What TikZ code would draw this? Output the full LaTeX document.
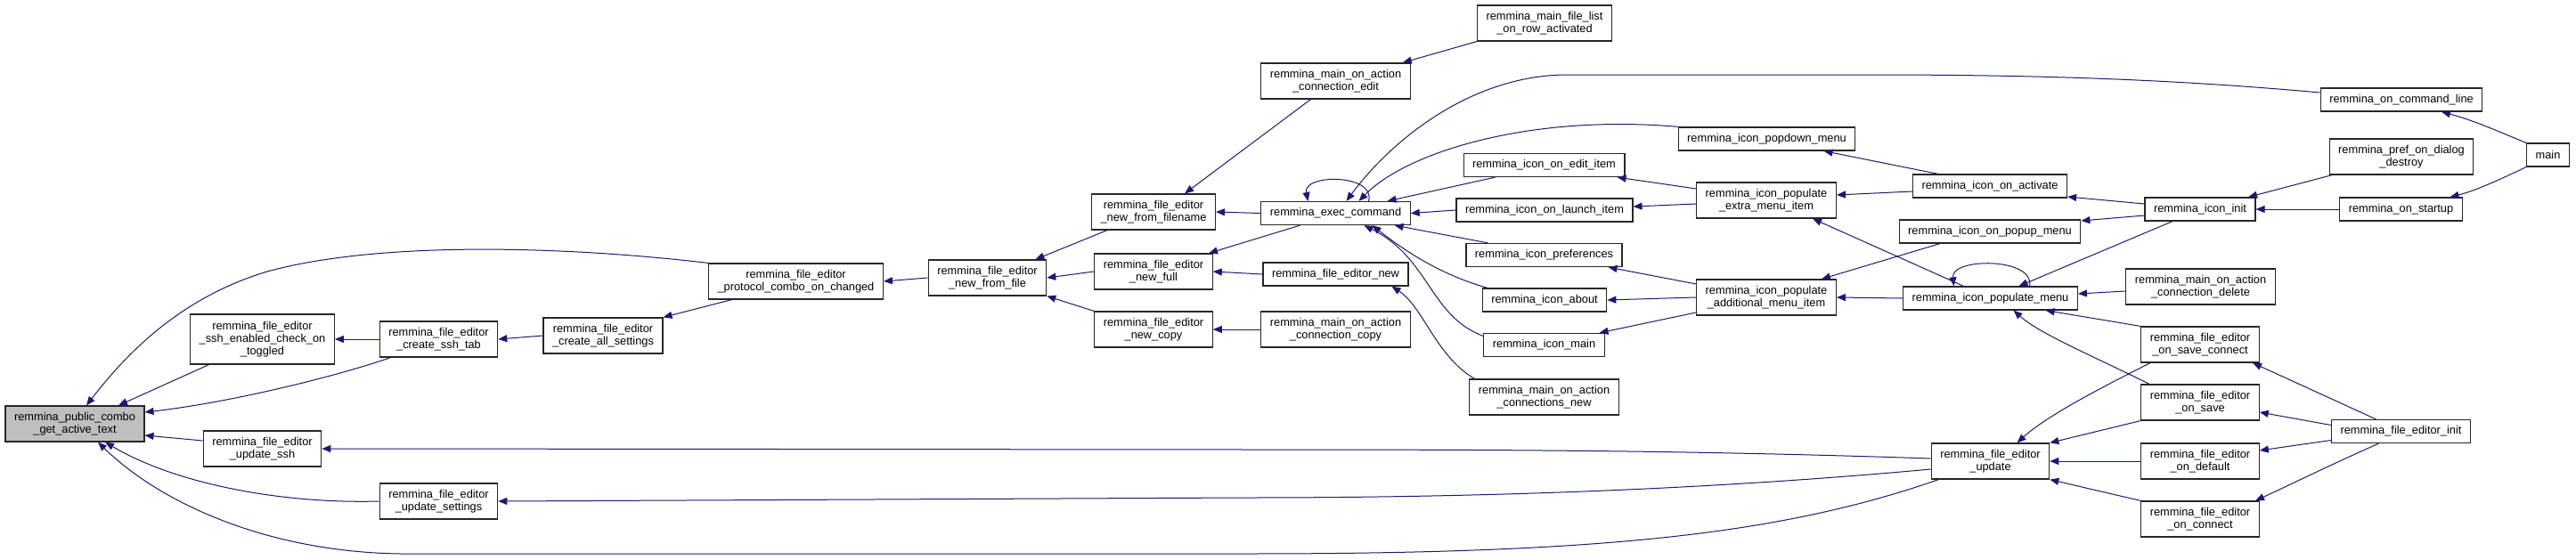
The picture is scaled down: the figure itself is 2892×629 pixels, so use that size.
\documentclass[tikz,border=0pt]{standalone}
\usepackage{fontspec}
\setmainfont{Liberation Sans}
\usetikzlibrary{arrows.meta}
\definecolor{edgeblue}{RGB}{25,25,112}
\definecolor{focusgrey}{RGB}{191,191,191}

\begin{document}
\begin{tikzpicture}[
    x=1pt, y=-1pt,
    font=\fontsize{12.8}{14}\selectfont,
    fn/.style={draw=black!85, line width=1.2pt, fill=white, align=center,
        inner xsep=10pt, inner ysep=2pt, minimum height=26pt},
    fn2/.style={fn, minimum height=40pt},
    fn3/.style={fn, minimum height=56pt},
    call/.style={draw=edgeblue, line width=1pt, -{Triangle[length=10pt, width=8pt]}}
]
    \useasboundingbox (0,0) rectangle (2892,629);

    % the function that is called
    \node[fn2, fill=focusgrey] (combo) at (84,476) {remmina\_public\_combo\\\_get\_active\_text};

    % its direct callers
    \node[fn3] (sshcheck) at (294.5,381) {remmina\_file\_editor\\\_ssh\_enabled\_check\_on\\\_toggled};
    \node[fn2] (updssh) at (294.5,504) {remmina\_file\_editor\\\_update\_ssh};
    \node[fn2] (sshtab) at (492.5,381) {remmina\_file\_editor\\\_create\_ssh\_tab};
    \node[fn2] (updset) at (492.5,563) {remmina\_file\_editor\\\_update\_settings};
    \node[fn2] (allset) at (677,377) {remmina\_file\_editor\\\_create\_all\_settings};
    \node[fn2] (protocol) at (893.5,316) {remmina\_file\_editor\\\_protocol\_combo\_on\_changed};

    % file editor constructors
    \node[fn2] (newfile) at (1108.5,312) {remmina\_file\_editor\\\_new\_from\_file};
    \node[fn2] (newname) at (1295,238) {remmina\_file\_editor\\\_new\_from\_filename};
    \node[fn2] (newfull) at (1295,305) {remmina\_file\_editor\\\_new\_full};
    \node[fn2] (newcopy) at (1295,370) {remmina\_file\_editor\\\_new\_copy};

    % exec command column
    \node[fn2] (connedit) at (1499.5,91) {remmina\_main\_on\_action\\\_connection\_edit};
    \node[fn] (exec) at (1499.5,239.5) {remmina\_exec\_command};
    \node[fn] (fenew) at (1499.5,308) {remmina\_file\_editor\_new};
    \node[fn2] (conncopy) at (1499.5,370) {remmina\_main\_on\_action\\\_connection\_copy};

    % icon items
    \node[fn2] (rowact) at (1734,26) {remmina\_main\_file\_list\\\_on\_row\_activated};
    \node[fn] (edititem) at (1733.5,185.5) {remmina\_icon\_on\_edit\_item};
    \node[fn] (launchitem) at (1734,236) {remmina\_icon\_on\_launch\_item};
    \node[fn] (prefs) at (1733.5,286.5) {remmina\_icon\_preferences};
    \node[fn] (about) at (1734,337) {remmina\_icon\_about};
    \node[fn] (iconmain) at (1733.5,387.5) {remmina\_icon\_main};
    \node[fn2] (connsnew) at (1733.5,446) {remmina\_main\_on\_action\\\_connections\_new};

    % menus
    \node[fn] (popdown) at (1983.5,156) {remmina\_icon\_popdown\_menu};
    \node[fn2] (extramenu) at (1983,225) {remmina\_icon\_populate\\\_extra\_menu\_item};
    \node[fn2] (addmenu) at (1983,334) {remmina\_icon\_populate\\\_additional\_menu\_item};
    \node[fn] (activate) at (2234,209) {remmina\_icon\_on\_activate};
    \node[fn] (popupmenu) at (2234,260) {remmina\_icon\_on\_popup\_menu};
    \node[fn] (popmenu) at (2234.5,335) {remmina\_icon\_populate\_menu};
    \node[fn2] (update) at (2234.5,518) {remmina\_file\_editor\\\_update};

    % icon init and file editor handlers
    \node[fn] (iconinit) at (2470,235) {remmina\_icon\_init};
    \node[fn2] (conndelete) at (2470.5,322) {remmina\_main\_on\_action\\\_connection\_delete};
    \node[fn2] (onsavecon) at (2470,387) {remmina\_file\_editor\\\_on\_save\_connect};
    \node[fn2] (onsave) at (2470,452) {remmina\_file\_editor\\\_on\_save};
    \node[fn2] (ondefault) at (2470,518) {remmina\_file\_editor\\\_on\_default};
    \node[fn2] (onconnect) at (2470,583) {remmina\_file\_editor\\\_on\_connect};

    % outermost callers
    \node[fn] (cmdline) at (2696,112) {remmina\_on\_command\_line};
    \node[fn2] (prefdestroy) at (2696,176) {remmina\_pref\_on\_dialog\\\_destroy};
    \node[fn] (startup) at (2695.5,235) {remmina\_on\_startup};
    \node[fn] (feinit) at (2695.5,484.5) {remmina\_file\_editor\_init};
    \node[fn] (main) at (2860.5,174) {main};

    % calls into public combo
    \draw[call] (protocol.north west) .. controls (620,275) and (420,272) .. (300,305)
        .. controls (200,335) and (140,400) .. ([xshift=13pt]combo.north);
    \draw[call] ([xshift=-60pt]sshcheck.south) -- ([xshift=49pt]combo.north);
    \draw[call] ([xshift=-54pt]sshtab.south) .. controls (380,422) and (260,452) .. ([yshift=13pt]combo.east);
    \draw[call] ([yshift=9pt]updssh.west) -- ([yshift=-13pt]combo.east);
    \draw[call] (updset.west) .. controls (320,566) and (200,545) .. ([xshift=34pt]combo.south);
    \draw[call] ([xshift=-58pt]update.south) .. controls (2000,600) and (1800,622) .. (1400,622)
        -- (450,622) .. controls (300,620) and (180,565) .. ([xshift=26pt]combo.south);

    % settings and constructors
    \draw[call] (sshtab.west) -- (sshcheck.east);
    \draw[call] (allset.west) -- (sshtab.east);
    \draw[call] ([xshift=-72pt]protocol.south) -- (allset.north east);
    \draw[call] (newfile.west) -- (protocol.east);
    \draw[call] ([xshift=-52pt]newname.south) -- ([xshift=54pt]newfile.north);
    \draw[call] (newfull.west) -- (newfile.east);
    \draw[call] (newcopy.north west) -- (newfile.south east);
    \draw[call] ([xshift=-28pt]connedit.south) -- ([xshift=35pt]newname.north);
    \draw[call] (exec.west) -- (newname.east);
    \draw[call] ([xshift=-40pt]exec.south) -- ([xshift=62pt]newfull.north);
    \draw[call] (fenew.west) -- (newfull.east);
    \draw[call] (conncopy.west) -- (newcopy.east);
    \draw[call] (rowact.south west) -- ([xshift=-9pt]connedit.north east);

    % calls into exec command
    \draw[call] ([xshift=37pt]exec.north) .. controls (1545,195) and (1462,195) .. ([xshift=-31pt]exec.north);
    \draw[call] ([yshift=8pt]cmdline.west) .. controls (2450,90) and (2300,84) .. (2100,84) -- (1760,84)
        .. controls (1650,84) and (1560,160) .. ([xshift=12pt]exec.north);
    \draw[call] (popdown.north west) .. controls (1720,128) and (1580,170) .. ([xshift=26pt]exec.north);
    \draw[call] ([xshift=-55pt]edititem.south) -- ([xshift=58pt]exec.north);
    \draw[call] (launchitem.west) -- (exec.east);
    \draw[call] ([xshift=-63pt]prefs.north) -- ([xshift=66pt]exec.south);
    \draw[call] ([xshift=-64pt]about.north) .. controls (1615,308) and (1575,280) .. ([xshift=41pt]exec.south);
    \draw[call] ([yshift=10pt]iconmain.west) .. controls (1605,355) and (1605,290) .. ([xshift=32pt]exec.south);
    \draw[call] ([xshift=-78pt]connsnew.north) .. controls (1612,400) and (1598,345) .. ([xshift=63pt]fenew.south);

    % icon menus
    \draw[call] ([yshift=13pt]extramenu.west) -- ([xshift=82pt]edititem.south);
    \draw[call] ([yshift=-4pt]extramenu.west) -- ([yshift=4pt]launchitem.east);
    \draw[call] ([yshift=15pt]addmenu.west) -- ([xshift=72pt]prefs.south);
    \draw[call] (addmenu.west) -- (about.east);
    \draw[call] ([yshift=-17pt]addmenu.west) -- ([xshift=62pt]iconmain.north);
    \draw[call] ([xshift=-58pt]activate.north) -- ([xshift=64pt]popdown.south);
    \draw[call] ([yshift=-6pt]activate.west) -- ([yshift=6pt]extramenu.east);
    \draw[call] ([xshift=-30pt]popmenu.north) -- ([xshift=52pt]extramenu.south);
    \draw[call] ([xshift=-56pt]popupmenu.south) -- ([xshift=62pt]addmenu.north);
    \draw[call] (popmenu.west) -- (addmenu.east);
    \draw[call] ([xshift=44pt]popmenu.north) .. controls (2285,289) and (2190,289) .. ([xshift=-41pt]popmenu.north);
    \draw[call] ([yshift=6pt]iconinit.west) -- ([yshift=-12pt]activate.east);
    \draw[call] ([yshift=-7pt]iconinit.west) -- ([yshift=12pt]popupmenu.east);
    \draw[call] ([xshift=-31pt]iconinit.south) -- ([xshift=32pt]popmenu.north);
    \draw[call] ([yshift=-5pt]conndelete.west) -- ([yshift=5pt]popmenu.east);
    \draw[call] (onsavecon.north west) -- ([xshift=62pt]popmenu.south);
    \draw[call] ([xshift=-57pt]onsave.north) .. controls (2350,400) and (2290,375) .. ([xshift=26pt]popmenu.south);
    \draw[call] ([xshift=-78pt]prefdestroy.south) -- ([xshift=54pt]iconinit.north);
    \draw[call] (startup.west) -- (iconinit.east);
    \draw[call] (main.north west) .. controls (2810,150) and (2780,136) .. ([xshift=45pt]cmdline.south);
    \draw[call] (main.south west) .. controls (2810,200) and (2780,214) .. ([xshift=55pt]startup.north);

    % file editor update
    \draw[call] ([xshift=-56pt]onsavecon.south) .. controls (2370,430) and (2300,465) .. ([xshift=30pt]update.north);
    \draw[call] (onsave.south west) -- (update.north east);
    \draw[call] (ondefault.west) -- (update.east);
    \draw[call] (onconnect.north west) -- (update.south east);
    \draw[call] ([xshift=-28pt]feinit.north) -- ([xshift=59pt]onsavecon.south);
    \draw[call] ([yshift=7pt]feinit.west) -- ([yshift=-11pt]onsave.east);
    \draw[call] ([yshift=-10pt]feinit.west) -- ([yshift=12pt]ondefault.east);
    \draw[call] ([xshift=-25pt]feinit.south) .. controls (2610,525) and (2570,545) .. ([xshift=62pt]onconnect.north);
    \draw[call] ([yshift=3pt]update.west) .. controls (1900,506) and (1700,505) .. (1400,505) -- (updssh.east);
    \draw[call] ([yshift=-9pt]update.west) .. controls (1950,547) and (1700,559) .. (1400,559) -- (updset.east);
\end{tikzpicture}
\end{document}
